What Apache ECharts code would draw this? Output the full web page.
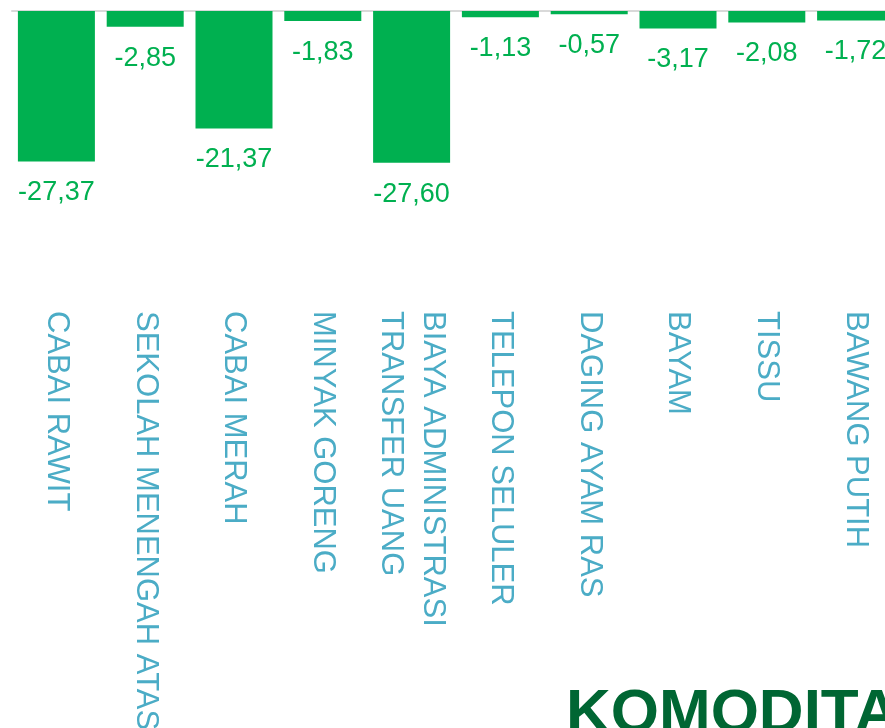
<!DOCTYPE html>
<html>
<head>
<meta charset="utf-8">
<script src="https://cdn.jsdelivr.net/npm/echarts@6/dist/echarts.min.js"></script>
<style>
  html, body { margin: 0; padding: 0; background: #fff; }
  #chart { width: 885px; height: 728px; }
</style>
</head>
<body>
<div id="chart"></div>
<script>
// data komoditas penyumbang deflasi
const categories = ['CABAI RAWIT', 'SEKOLAH MENENGAH ATAS', 'CABAI MERAH', 'MINYAK GORENG',
  'BIAYA ADMINISTRASI\nTRANSFER UANG', 'TELEPON SELULER', 'DAGING AYAM RAS', 'BAYAM', 'TISSU', 'BAWANG PUTIH'];
const values = [-27.37, -2.85, -21.37, -1.83, -27.60, -1.13, -0.57, -3.17, -2.08, -1.72];
const title = 'KOMODITAS';

const font = '"Liberation Sans", Arial, sans-serif';

const myChart = echarts.init(document.getElementById('chart'));
const option = {
  animation: false,
  grid: { left: 12, right: -15, top: 11, height: 297, outerBoundsMode: 'none', containLabel: false },
  xAxis: [
    {
      type: 'category', data: categories, position: 'top',
      axisLine: { lineStyle: { color: '#d9d9d9', width: 2 } },
      axisTick: { show: false }, axisLabel: { show: false }
    },
    {
      type: 'category', data: categories, position: 'bottom',
      axisLine: { show: false }, axisTick: { show: false },
      axisLabel: {
        rotate: -90, margin: 3, interval: 0,
        color: '#4bacc6', fontFamily: font, fontSize: 31, lineHeight: 42
      }
    }
  ],
  yAxis: { type: 'value', min: -54, max: 0, show: false },
  series: [{
    type: 'bar', data: values, barWidth: 77,
    itemStyle: { color: '#00b050' },
    label: {
      show: true, position: 'bottom', distance: 18,
      color: '#00b050', fontFamily: font, fontSize: 27,
      formatter: p => p.value.toFixed(2).replace('.', ',')
    }
  }],
  graphic: [{
    type: 'text', left: 566, top: 684,
    style: { text: title, fill: '#006633', font: 'bold 62px "Liberation Sans", Arial, sans-serif' }
  }]
};
myChart.setOption(option);
window.addEventListener('resize', function () { myChart.resize(); });
</script>
</body>
</html>
